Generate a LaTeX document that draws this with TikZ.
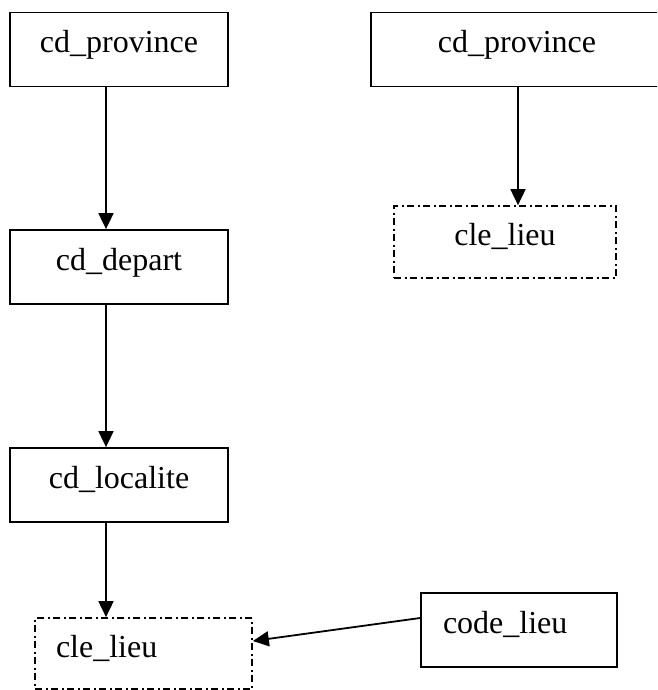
\documentclass[tikz,border=0pt]{standalone}
\usepackage{fontspec}
\setmainfont{Liberation Serif}
\usetikzlibrary{arrows.meta}
\begin{document}
\begin{tikzpicture}[x=1pt,y=-1pt,
  box/.style={draw,line width=1.8pt,minimum height=74pt,inner sep=0pt,
    text height=22pt,text depth=15pt,font=\fontsize{32}{38}\selectfont},
  keybox/.style={box,line width=1.7pt,
    dash pattern=on 7pt off 3.5pt on 2pt off 3.5pt},
  link/.style={line width=1.8pt,-{Triangle[length=16pt,width=15pt]}}]
\useasboundingbox (0,0) rectangle (657,690);
\clip (0,0) rectangle (657,690);

% left chain
\node[box,minimum width=218pt] (provA) at (119,49.5) {cd\_province};
\node[box,minimum width=218pt] (dep) at (119,267) {cd\_depart};
\node[box,minimum width=218pt] (loc) at (119,485) {cd\_localite};
\node[keybox,minimum width=217pt,minimum height=71pt,text width=175pt,align=left]
  (lieuA) at (143.5,653.5) {cle\_lieu};

% right chain
\node[box,minimum width=292pt] (provB) at (517,49.5) {cd\_province};
\node[keybox,minimum width=222pt,minimum height=72pt] (lieuB) at (505,242) {cle\_lieu};

% external code
\node[box,minimum width=196pt,text width=152pt,align=left] (code) at (519,630) {code\_lieu};

% links
\draw[link] ([xshift=-13pt]provA.south) -- ([xshift=-13pt]dep.north);
\draw[link] ([xshift=-13pt]dep.south) -- ([xshift=-13pt]loc.north);
\draw[link] ([xshift=-13pt]loc.south) -- ([xshift=-37.5pt]lieuA.north);
\draw[link] ([xshift=1pt]provB.south) -- ([xshift=1pt]provB.south |- lieuB.north);
\draw[link] ([yshift=12pt]code.west) -- ([yshift=12.5pt]lieuA.east);
\end{tikzpicture}
\end{document}
